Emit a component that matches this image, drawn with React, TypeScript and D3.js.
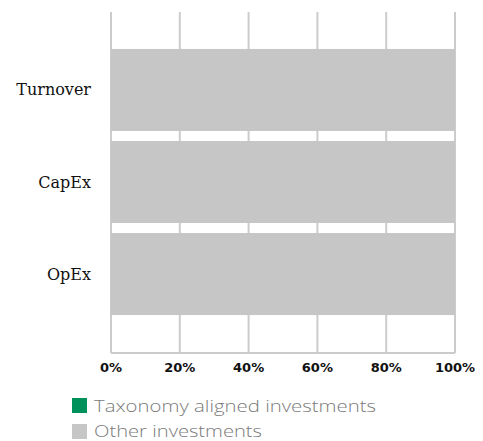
import React from "react";
import * as d3 from "d3";

const categories = ["Turnover", "CapEx", "OpEx"];
const alignedValues = [0, 0, 0];
const otherValues = [100, 100, 100];
const xTicks = [0, 20, 40, 60, 80, 100];
const legendLabels = ["Taxonomy aligned investments", "Other investments"];
const seriesColors = ["#00915a", "#c6c6c6"];

export default function App() {
  const W = 483, H = 441;
  const x = d3.scaleLinear().domain([0, 100]).range([111, 455]);
  const y = d3.scaleBand<string>().domain(categories).range([44, 320]).paddingInner(0.109).paddingOuter(0.054);
  const gridTop = 12, gridBottom = 353;
  const stack = categories.map((c, i) => ({ c, a: alignedValues[i], o: otherValues[i] }));
  const legendWidths = [282, 168];
  return (
    <svg width={W} height={H} style={{ position: "absolute", left: 0, top: 0 }}>
      <rect width={W} height={H} fill="#fff" />
      {xTicks.map((t) => (
        <line key={t} x1={x(t)} x2={x(t)} y1={gridTop} y2={gridBottom} stroke="#cccccc" strokeWidth={2} />
      ))}
      <line x1={x(0)} x2={x(100)} y1={gridBottom} y2={gridBottom} stroke="#cccccc" strokeWidth={2} />
      {stack.map((d) => (
        <g key={d.c}>
          <rect x={x(0)} y={y(d.c)} width={x(d.a) - x(0)} height={y.bandwidth()} fill={seriesColors[0]} />
          <rect x={x(d.a)} y={y(d.c)} width={x(d.a + d.o) - x(d.a)} height={y.bandwidth()} fill={seriesColors[1]} />
          <text x={91} y={(y(d.c) as number) + y.bandwidth() / 2} textAnchor="end" dominantBaseline="central"
            fontFamily="'DejaVu Serif'" fontSize={16} fill="#111">{d.c}</text>
        </g>
      ))}
      {xTicks.map((t) => (
        <text key={t} x={x(t)} y={367} textAnchor="middle" dominantBaseline="central"
          fontFamily="'DejaVu Sans'" fontWeight="bold" fontSize={13} fill="#111">{t}%</text>
      ))}
      {legendLabels.map((l, i) => (
        <g key={l}>
          <rect x={72} y={398 + i * 26} width={15} height={15} fill={seriesColors[i]} />
          <text x={94} y={411.5 + i * 25} fontFamily="'Open Sans'" fontWeight={300} fontSize={17}
            textLength={legendWidths[i]} lengthAdjust="spacingAndGlyphs" fill="#7a7a7a">{l}</text>
        </g>
      ))}
    </svg>
  );
}
